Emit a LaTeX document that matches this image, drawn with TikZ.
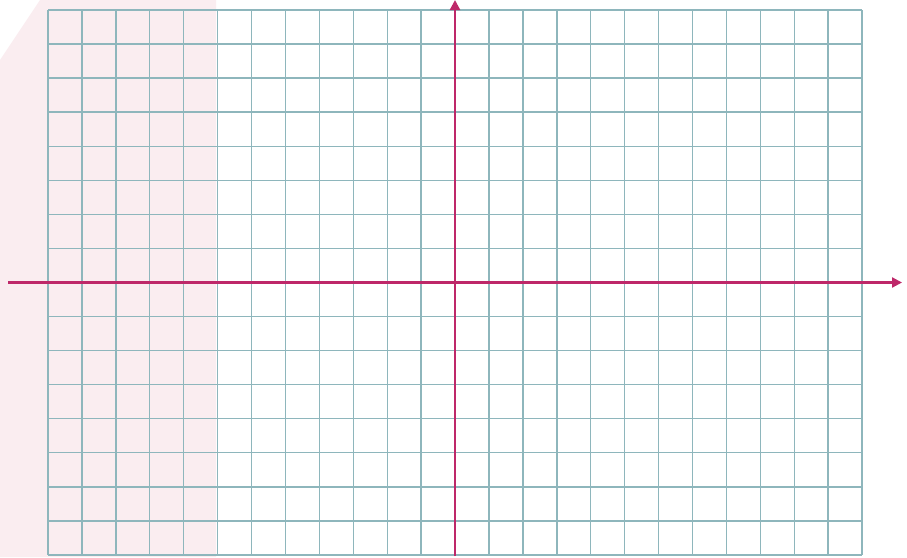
\documentclass[tikz,border=0pt]{standalone}
\usetikzlibrary{arrows.meta}
\definecolor{gridc}{RGB}{142,182,188}
\definecolor{axisc}{RGB}{190,40,105}
\definecolor{tint}{RGB}{250,237,240}
\begin{document}
\begin{tikzpicture}[x=1pt,y=-1pt,
  gridline/.style={draw=gridc,line width=1.4pt},
  axisline/.style={draw=axisc,line width=2.2pt,-{Triangle[length=10pt,width=10pt]}}]
\useasboundingbox (0,0) rectangle (907,557);
\fill[white] (0,0) rectangle (907,557);
\fill[tint] (40,0) -- (216,0) -- (216,557) -- (0,557) -- (0,60) -- cycle;
% grid
\foreach \i in {0,...,24} {
  \draw[gridline] ({48+\i*33.92},10) -- ({48+\i*33.92},555);
}
\foreach \j in {0,...,16} {
  \draw[gridline] (48,{10+\j*34.06}) -- (862,{10+\j*34.06});
}
% axes
\coordinate (xs) at (8,282.5);
\coordinate (xe) at (902,282.5);
\coordinate (ys) at (455,556);
\coordinate (ye) at (455,0);
\draw[axisline] (xs) -- (xe);
\draw[axisline] (ys) -- (ye);
\end{tikzpicture}
\end{document}
